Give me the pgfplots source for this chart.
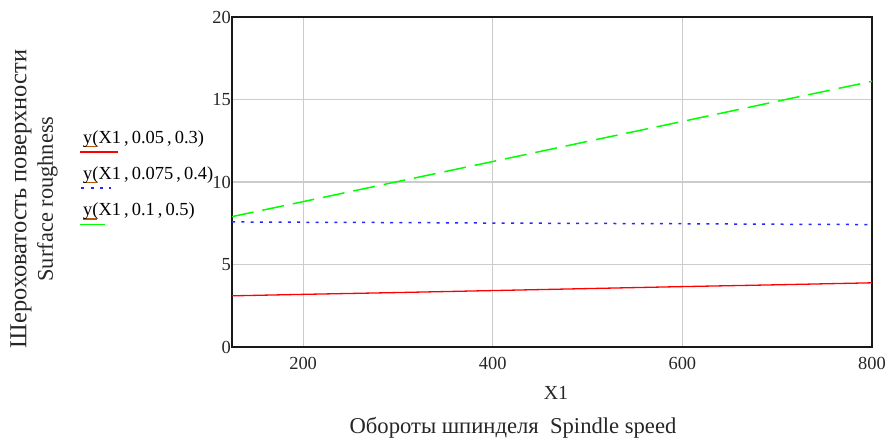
\documentclass[border=0pt]{standalone}
\usepackage{fontspec}
\setmainfont{Liberation Serif}
\usepackage{pgfplots}
\pgfplotsset{compat=1.18}
\definecolor{ulbrown}{RGB}{175,90,10}
\newcommand{\uy}{\rlap{\textcolor{ulbrown}{\rule[-4bp]{14bp}{1.1bp}}}y}
\begin{document}
\begin{tikzpicture}[x=1bp,y=1bp]
\path[use as bounding box] (0,0) rectangle (890,439);
\begin{axis}[
  at={(232bp,92bp)}, anchor=south west,
  scale only axis, width=640bp, height=330bp,
  xmin=125, xmax=800, ymin=0, ymax=20,
  xtick={200,400,600,800}, ytick={0,5,10,15,20},
  major tick length=0pt,
  grid=major, grid style={draw=black!20, line width=1.2bp},
  axis line style={line width=1.5bp, black!90},
  /pgf/number format/assume math mode=true,
  tick label style={font=\fontsize{18.5}{20}\selectfont, text=black!85},
  xticklabel style={anchor=north, inner sep=0pt, yshift=-10bp},
  yticklabel style={anchor=east, inner sep=0pt, xshift=-1bp},
  legend style={at={(rel axis cs:-0.2328,0.657)}, anchor=north west,
    draw=none, fill=none, inner sep=0pt, row sep=21.9bp, column sep=0pt,
    font=\fontsize{18.5}{20}\selectfont,
    nodes={inner sep=0pt}, cells={anchor=west}},
]
\addplot[red, line width=1.3bp, forget plot] coordinates {
  (125,3.10) (200,3.19) (300,3.30) (400,3.42) (500,3.54) (600,3.66) (700,3.77) (800,3.89)};
\addplot[blue!85!white, line width=1.5bp, dash pattern=on 3bp off 6.3bp, forget plot] coordinates {
  (125,7.58) (200,7.56) (300,7.54) (400,7.51) (500,7.49) (600,7.47) (700,7.44) (800,7.42)};
\addplot[green, line width=1.5bp, dash pattern=on 22bp off 9bp, forget plot] coordinates {
  (125,7.90) (200,8.81) (300,10.03) (400,11.24) (500,12.46) (600,13.67) (700,14.89) (800,16.10)};
\addlegendimage{legend image code/.code={\draw[red, line width=1.3bp, overlay] (-3bp,-14.5bp) -- (35bp,-14.5bp);}}
\addlegendentry{\uy(X1\,,\,0.05\,,\,0.3)}
\addlegendimage{legend image code/.code={\draw[blue!85!white, line width=1.5bp, dash pattern=on 3bp off 6.3bp, overlay] (-2bp,-14.5bp) -- (28bp,-14.5bp);}}
\addlegendentry{\uy(X1\,,\,0.075\,,\,0.4)}
\addlegendimage{legend image code/.code={\draw[green, line width=1.5bp, overlay] (-3bp,-14.5bp) -- (22bp,-14.5bp);}}
\addlegendentry{\uy(X1\,,\,0.1\,,\,0.5)}
\end{axis}
\node[rotate=90, font=\fontsize{24.5}{26}\selectfont, text=black!85] at (21,240) {Шероховатость поверхности};
\node[rotate=90, font=\fontsize{22.5}{24}\selectfont, text=black!85] at (47.5,240) {Surface roughness};
\node[anchor=base, font=\fontsize{20}{22}\selectfont, text=black!85] at (556,39) {X1};
\node[anchor=base, font=\fontsize{22.7}{24}\selectfont, text=black!85] at (513,5.5) {Обороты шпинделя\ \ Spindle speed};
\end{tikzpicture}
\end{document}
